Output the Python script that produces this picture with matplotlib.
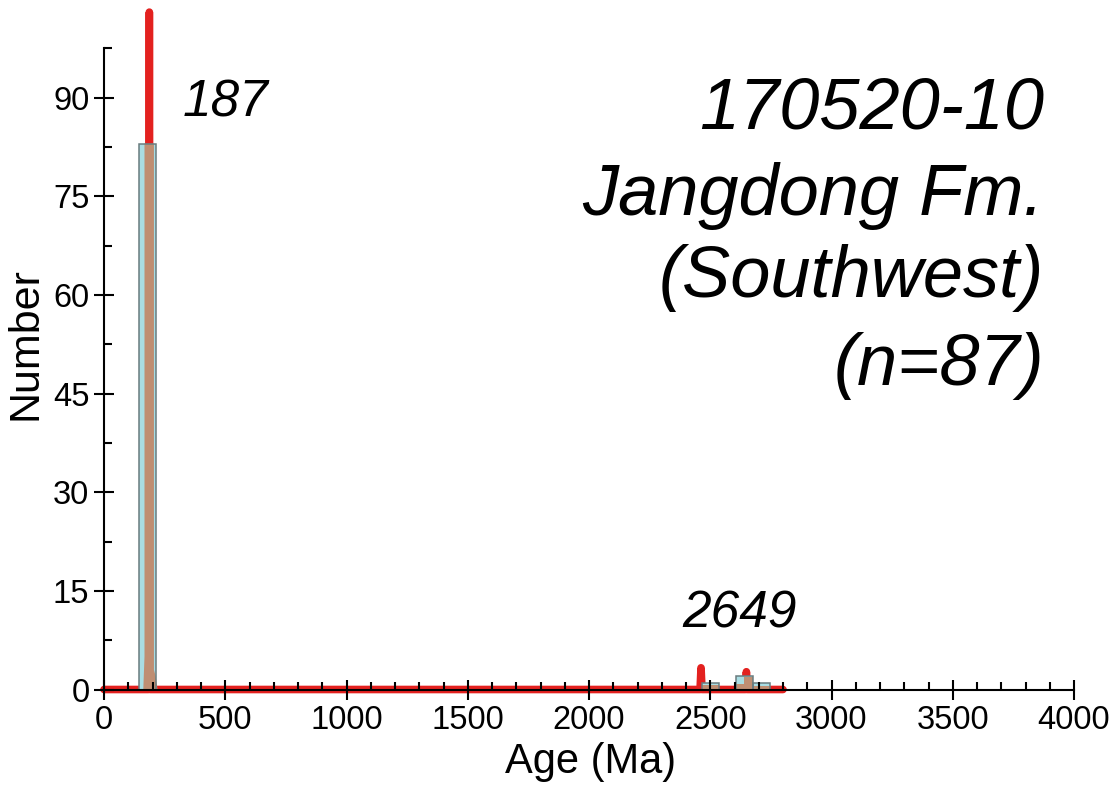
import matplotlib
matplotlib.use("Agg")
import matplotlib.pyplot as plt
from matplotlib.ticker import MultipleLocator

plt.rcParams['font.family'] = ['Liberation Sans', 'DejaVu Sans']

# Histogram of detrital zircon ages (bin left edges, bin width, counts)
bin_left = [145, 2465, 2605, 2675]
bin_width = 70
bin_count = [83, 1, 2, 1]

# Probability density curve (age, scaled number)
pdp_age = [0, 183, 187, 191, 2458, 2462, 2466, 2645, 2649, 2653, 2800]
pdp_val = [0, 0, 103, 0, 0, 3.3, 0, 0, 2.7, 0, 0]

# Kernel density outline (age, scaled number)
kde_age_young = [162, 167, 167, 206, 206, 213, 221]
kde_val_young = [0, 5, 83, 83, 3, 2, 0]
kde_age_old = [2465, 2465, 2535, 2535, 2605, 2605, 2641, 2641, 2675, 2675, 2745, 2745]
kde_val_old = [0, 0.75, 0.75, 0, 0, 0.85, 0.85, 1.9, 1.9, 0.5, 0.5, 0]

# Peak labels
peak_ages = [187, 2649]
peak_label_pos = [(500, 87.2), (2620, 9.5)]

sample_lines = ["170520-10", "Jangdong Fm.", "(Southwest)", "(n=87)"]

fig = plt.figure(figsize=(11.16, 7.90), dpi=100)
ax = fig.add_axes([104 / 1116, 1 - 689.5 / 790, 970 / 1116, 641.2 / 790])

bar_fill = "#a9dde3"
bar_edge = "#6a7c7f"
kde_fill = "#bf8e72"
pdp_color = "#e3211f"

# density curve sits behind the histogram
ax.plot(pdp_age, pdp_val, color=pdp_color, lw=5.5,
        solid_capstyle='round', solid_joinstyle='round',
        clip_on=False, zorder=1.6)
ax.bar(bin_left, bin_count, width=bin_width, align='edge',
       color=bar_fill, edgecolor='none', zorder=2)
ax.fill(kde_age_young, kde_val_young, color=kde_fill, lw=0, zorder=2.2)
ax.fill(kde_age_old, kde_val_old, color=kde_fill, lw=0, zorder=2.2)
ax.bar(bin_left, bin_count, width=bin_width, align='edge',
       facecolor='none', edgecolor=bar_edge, lw=1.1, zorder=2.3)

for age, (x, y) in zip(peak_ages, peak_label_pos):
    ax.text(x, y, str(age), fontsize=37, style='italic',
            ha='center', va='baseline')

baselines = [128.5, 215, 297, 385]
for line, b in zip(sample_lines, baselines):
    fig.text(1044 / 1116, 1 - b / 790, line, fontsize=52, style='italic',
             ha='right', va='baseline')

ax.set_xlim(0, 4000)
ax.set_ylim(0, 97.5)
ax.xaxis.set_major_locator(MultipleLocator(500))
ax.xaxis.set_minor_locator(MultipleLocator(100))
ax.yaxis.set_major_locator(MultipleLocator(15))
ax.yaxis.set_minor_locator(MultipleLocator(7.5))

for s in ['top', 'right']:
    ax.spines[s].set_visible(False)
for s in ['left', 'bottom']:
    ax.spines[s].set_linewidth(1.5)
    ax.spines[s].set_zorder(2.5)

ax.tick_params(axis='both', which='major', direction='inout', length=15,
               width=1.5, labelsize=23.5, color='black')
ax.tick_params(axis='both', which='minor', direction='in', length=6,
               width=1.5)
ax.tick_params(axis='x', which='major', pad=4)
ax.tick_params(axis='y', which='major', pad=3)
ax.xaxis.set_zorder(3.5)
ax.yaxis.set_zorder(3.5)

ax.set_xlabel("Age (Ma)", fontsize=30)
ax.set_ylabel("Number", fontsize=31)
ax.xaxis.set_label_coords((591 - 104) / 970, -(762 - 689.5) / 641.2)
ax.xaxis.label.set_va('center')
ax.yaxis.set_label_coords(-(79) / 970, (689.5 - 344) / 641.2)
ax.yaxis.label.set_va('center')

fig.savefig("out.png", dpi=100)
